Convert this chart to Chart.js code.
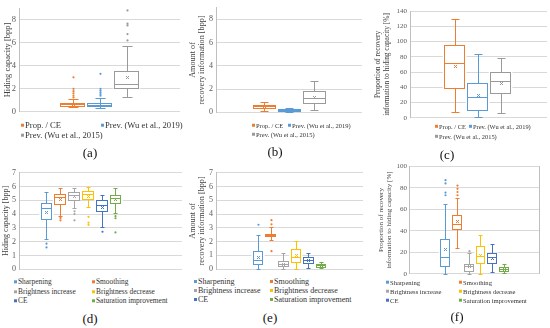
<!DOCTYPE html>
<html>
<head>
<meta charset="utf-8">
<script src="https://cdn.jsdelivr.net/npm/chart.js@4.4.1/dist/chart.umd.min.js"></script>
<style>
  html, body { margin: 0; padding: 0; background: #ffffff; }
  #wrap { position: relative; width: 550px; height: 328px; overflow: hidden; background: #fff; font-family: 'Liberation Serif', 'Times New Roman', serif; }
  canvas { position: absolute; }
  .leg { position: absolute; white-space: nowrap; color: #333; line-height: 1; transform: translateY(-50%); }
  .leg i { display: inline-block; width: 3px; height: 3px; margin-right: 1px; vertical-align: middle; position: relative; top: -1px; }
  .cap { position: absolute; font-size: 13px; color: #111; transform: translate(-50%, -50%); }
</style>
</head>
<body>
<div id="wrap">
  <canvas id="ca" width="185" height="120" style="left:0px;top:0px"></canvas>
  <canvas id="cb" width="180" height="120" style="left:185px;top:0px"></canvas>
  <canvas id="cc" width="185" height="125" style="left:365px;top:0px"></canvas>
  <canvas id="cd" width="185" height="112" style="left:0px;top:165px"></canvas>
  <canvas id="ce" width="180" height="112" style="left:185px;top:165px"></canvas>
  <canvas id="cf" width="185" height="120" style="left:365px;top:160px"></canvas>
</div>
<script>
// ---------------- DATA ----------------
const seriesTop = ['Prop. / CE', 'Prev. (Wu et al., 2019)', 'Prev. (Wu et al., 2015)'];
const seriesBottom = ['Sharpening', 'Smoothing', 'Brightness increase', 'Brightness decrease', 'CE', 'Saturation improvement'];
const captions = ['(a)', '(b)', '(c)', '(d)', '(e)', '(f)'];
const titleA = 'Hiding capacity [bpp]';
const titleB = ['Amount of', 'recovery information [bpp]'];
const titleC = ['Proportion of recovery', 'information to hiding capacity [%]'];

// (a) hiding capacity [bpp]
const a_min  = [0.40, 0.38, 1.30];
const a_q1   = [0.50, 0.50, 2.05];
const a_med  = [0.65, 0.62, 2.40];
const a_q3   = [0.80, 0.78, 3.55];
const a_max  = [1.10, 1.22, 5.70];
const a_mean = [0.72, 0.70, 3.05];
const a_out  = [[1.25, 1.4, 1.6, 1.8, 2.0, 3.0], [1.4, 1.55, 1.7, 1.85, 2.0, 3.3], [6.2, 6.75, 7.5, 7.65, 8.8]];

// (b) amount of recovery information [bpp]
const b_min  = [0.08, 0.05, 0.15];
const b_q1   = [0.35, 0.12, 0.80];
const b_med  = [0.50, 0.20, 1.25];
const b_q3   = [0.62, 0.30, 1.82];
const b_max  = [0.88, 0.38, 2.67];
const b_mean = [0.50, 0.22, 1.32];
const b_out  = [[], [], []];

// (c) proportion [%]
const c_min  = [7, 1, 6];
const c_q1   = [39, 10, 33];
const c_med  = [72, 27, 48];
const c_q3   = [96, 45, 60];
const c_max  = [130, 83, 79];
const c_mean = [68, 30, 46];
const c_out  = [[], [], []];

// (d) hiding capacity [bpp]
const d_min  = [2.20, 3.85, 4.45, 4.55, 3.03, 4.10];
const d_q1   = [3.68, 4.75, 5.05, 5.10, 4.20, 4.82];
const d_med  = [4.42, 5.22, 5.42, 5.45, 4.68, 5.20];
const d_q3   = [4.82, 5.45, 5.62, 5.68, 5.02, 5.42];
const d_max  = [5.62, 5.90, 5.92, 5.98, 5.36, 5.88];
const d_mean = [4.18, 5.08, 5.30, 5.32, 4.50, 5.08];
const d_out  = [[1.85, 1.58], [3.72, 3.55], [4.2, 4.0, 3.55], [3.8, 3.38, 3.22], [2.72], [3.85, 3.7, 2.67]];

// (e) amount of recovery information [bpp]
const e_min  = [0.00, 2.10, 0.00, 0.00, 0.07, 0.05];
const e_q1   = [0.36, 2.37, 0.24, 0.50, 0.43, 0.17];
const e_med  = [0.65, 2.47, 0.38, 0.85, 0.62, 0.26];
const e_q3   = [1.32, 2.58, 0.55, 1.44, 0.85, 0.35];
const e_max  = [2.48, 3.05, 1.15, 2.04, 1.20, 0.50];
const e_mean = [0.84, 2.46, 0.40, 1.00, 0.67, 0.26];
const e_out  = [[3.22], [3.25, 3.55, 1.3], [], [], [], []];

// (f) proportion [%]
const f_min  = [0, 24, 0, 0, 2, 1];
const f_q1   = [7.5, 42, 3, 10, 10, 2.2];
const f_med  = [16, 46, 6.8, 16.5, 16, 4.3];
const f_q3   = [32.5, 54.5, 9.3, 26, 19.5, 6];
const f_max  = [64.5, 70, 19, 36.5, 27.5, 9];
const f_mean = [23.5, 49.5, 7.7, 17.5, 14.5, 4.6];
const f_out  = [[73, 75.5, 84, 87], [73, 76, 79, 82], [21], [], [], []];

const colorsTop = ['#ED7D31', '#5B9BD5', '#9A9A9A'];
const colorsBottom = ['#5B9BD5', '#ED7D31', '#A5A5A5', '#FFC000', '#4472C4', '#70AD47'];

// ---------------- RENDERING ----------------
const FONT = "'Liberation Serif', 'Times New Roman', serif";

const boxPlugin = {
  id: 'boxwhisker',
  afterDatasetsDraw(chart) {
    const ctx = chart.ctx;
    const ys = chart.scales.y;
    const py = v => Math.round(ys.getPixelForValue(v)) + 0.5;
    chart.data.datasets.forEach((ds, i) => {
      const el = chart.getDatasetMeta(i).data[0];
      if (!el) return;
      const s = ds.stats;
      const cx = Math.round(el.x) + 0.5;
      const L = Math.round(el.x - el.width / 2) + 1.5;
      const R = Math.round(el.x + el.width / 2) - 1.5;
      const capHalf = Math.max(2, Math.round(el.width * 0.17));
      const yq1 = py(s.q1), yq3 = py(s.q3);
      ctx.save();
      ctx.strokeStyle = ds.color;
      ctx.fillStyle = ds.color;
      ctx.lineWidth = 1;
      // whiskers
      ctx.beginPath();
      ctx.moveTo(cx, yq3); ctx.lineTo(cx, py(s.max));
      ctx.moveTo(cx - capHalf, py(s.max)); ctx.lineTo(cx + capHalf, py(s.max));
      ctx.moveTo(cx, yq1); ctx.lineTo(cx, py(s.min));
      ctx.moveTo(cx - capHalf, py(s.min)); ctx.lineTo(cx + capHalf, py(s.min));
      ctx.stroke();
      // box
      ctx.fillStyle = '#ffffff';
      ctx.fillRect(L, yq3, R - L, yq1 - yq3);
      ctx.strokeRect(L, yq3, R - L, yq1 - yq3);
      // median
      ctx.beginPath();
      ctx.moveTo(L, py(s.med)); ctx.lineTo(R, py(s.med));
      ctx.stroke();
      // mean
      const ym = py(s.mean);
      ctx.beginPath();
      ctx.moveTo(cx - 1.5, ym - 1.5); ctx.lineTo(cx + 1.5, ym + 1.5);
      ctx.moveTo(cx + 1.5, ym - 1.5); ctx.lineTo(cx - 1.5, ym + 1.5);
      ctx.stroke();
      // outliers
      ctx.fillStyle = ds.color;
      s.out.forEach(v => {
        ctx.beginPath();
        ctx.arc(cx, ys.getPixelForValue(v), 1.1, 0, Math.PI * 2);
        ctx.fill();
      });
      ctx.restore();
    });
    if (chart.options.plugins.boxwhisker && chart.options.plugins.boxwhisker.rightBorder) {
      const a = chart.chartArea;
      ctx.save();
      ctx.strokeStyle = '#bfbfbf';
      ctx.lineWidth = 1;
      ctx.beginPath();
      ctx.moveTo(Math.round(a.right) - 0.5, a.top);
      ctx.lineTo(Math.round(a.right) - 0.5, a.bottom);
      ctx.stroke();
      ctx.restore();
    }
  }
};

function makePanel(cfg) {
  const datasets = cfg.series.map((name, i) => ({
    label: name,
    data: [{ x: cfg.groupX, y: [cfg.q1[i], cfg.q3[i]] }],
    backgroundColor: '#ffffff',
    borderWidth: 0,
    barThickness: cfg.chunk,
    color: cfg.colors[i],
    stats: { min: cfg.min[i], q1: cfg.q1[i], med: cfg.med[i], q3: cfg.q3[i], max: cfg.max[i], mean: cfg.mean[i], out: cfg.out[i] }
  }));
  new Chart(document.getElementById(cfg.id), {
    type: 'bar',
    data: { datasets },
    options: {
      responsive: false,
      animation: false,
      devicePixelRatio: 1,
      layout: { padding: cfg.pad },
      plugins: {
        legend: { display: false },
        tooltip: { enabled: false },
        boxwhisker: { rightBorder: !!cfg.rightBorder }
      },
      scales: {
        x: { type: 'linear', min: 0, max: 1, display: false },
        y: {
          min: 0, max: cfg.yMax,
          ticks: { stepSize: cfg.yStep, color: '#595959', padding: cfg.tickPad, font: { family: FONT, size: cfg.tickSize } },
          grid: { color: '#d9d9d9', drawTicks: false },
          border: { color: '#bfbfbf' },
          title: { display: true, text: cfg.title, color: '#404040', padding: { top: cfg.titlePad, bottom: 0 }, font: { family: FONT, size: cfg.titleSize, lineHeight: cfg.titleLH } },
          afterFit: s => { s.width = cfg.axisW; }
        }
      }
    },
    plugins: [boxPlugin]
  });
  // legend (HTML, real text)
  const wrap = document.getElementById('wrap');
  cfg.series.forEach((name, i) => {
    const d = document.createElement('div');
    d.className = 'leg';
    d.style.left = cfg.legX[i % 2] + 'px';
    d.style.top = cfg.legY[Math.floor(i / 2)] + 'px';
    d.style.fontSize = cfg.legSize + 'px';
    const m = document.createElement('i');
    m.style.background = cfg.colors[i];
    d.appendChild(m);
    d.appendChild(document.createTextNode(name));
    wrap.appendChild(d);
  });
  const c = document.createElement('div');
  c.className = 'cap';
  c.style.left = cfg.capX + 'px';
  c.style.top = cfg.capY + 'px';
  c.textContent = cfg.caption;
  wrap.appendChild(c);
}

makePanel({ id: 'ca', series: seriesTop, colors: colorsTop, min: a_min, q1: a_q1, med: a_med, q3: a_q3, max: a_max, mean: a_mean, out: a_out,
  yMax: 9, yStep: 1, title: titleA, caption: captions[0],
  groupX: 0.5, chunk: 27, pad: { top: 7, right: 5, bottom: 7, left: 0 }, axisW: 19, tickPad: 3, tickSize: 8.5, titleSize: 8.5, titleLH: 1.1, titlePad: 3,
  legX: [21, 101], legY: [125, 135], legSize: 8.6, capX: 90, capY: 153 });

makePanel({ id: 'cb', series: seriesTop, colors: colorsTop, min: b_min, q1: b_q1, med: b_med, q3: b_q3, max: b_max, mean: b_mean, out: b_out,
  yMax: 9, yStep: 1, title: titleB, caption: captions[1],
  groupX: 0.5, chunk: 25, pad: { top: 7, right: 3, bottom: 7, left: 0 }, axisW: 31, tickPad: 3, tickSize: 8, titleSize: 8.2, titleLH: 1.05, titlePad: 3.5,
  legX: [252, 288], legY: [126, 135], legSize: 6.5, capX: 275, capY: 152 });

makePanel({ id: 'cc', series: seriesTop, colors: colorsTop, min: c_min, q1: c_q1, med: c_med, q3: c_q3, max: c_max, mean: c_mean, out: c_out,
  yMax: 140, yStep: 20, title: titleC, caption: captions[2],
  groupX: 0.49, chunk: 23, pad: { top: 11, right: 3, bottom: 7, left: 0 }, axisW: 45, tickPad: 3, tickSize: 7, titleSize: 7.4, titleLH: 1.2, titlePad: 8.5,
  legX: [435, 469], legY: [127, 137], legSize: 6.4, capX: 447, capY: 155 });

makePanel({ id: 'cd', series: seriesBottom, colors: colorsBottom, min: d_min, q1: d_q1, med: d_med, q3: d_q3, max: d_max, mean: d_mean, out: d_out,
  yMax: 7, yStep: 1, title: titleA, caption: captions[3],
  groupX: 0.32, chunk: 13.8, pad: { top: 7, right: 3, bottom: 6, left: 0 }, axisW: 19, tickPad: 3, tickSize: 8, titleSize: 8, titleLH: 1.1, titlePad: 1.5,
  legX: [14, 92], legY: [282, 292, 301], legSize: 7.4, capX: 90, capY: 319 });

makePanel({ id: 'ce', series: seriesBottom, colors: colorsBottom, min: e_min, q1: e_q1, med: e_med, q3: e_q3, max: e_max, mean: e_mean, out: e_out,
  yMax: 7, yStep: 1, title: titleB, caption: captions[4],
  groupX: 0.5, chunk: 12.6, pad: { top: 7, right: 2, bottom: 8, left: 0 }, axisW: 31, tickPad: 3, tickSize: 8, titleSize: 8.2, titleLH: 1.05, titlePad: 3.5,
  legX: [194, 270], legY: [282, 291, 300], legSize: 8, capX: 270, capY: 318 });

makePanel({ id: 'cf', series: seriesBottom, colors: colorsBottom, min: f_min, q1: f_q1, med: f_med, q3: f_q3, max: f_max, mean: f_mean, out: f_out,
  yMax: 100, yStep: 10, title: titleC, caption: captions[5], rightBorder: true,
  groupX: 0.5, chunk: 11.8, pad: { top: 6, right: 10, bottom: 6, left: 0 }, axisW: 44, tickPad: 2, tickSize: 7, titleSize: 7, titleLH: 1.2, titlePad: 12,
  legX: [386, 459], legY: [283, 292, 301], legSize: 6.6, capX: 457, capY: 317 });
</script>
</body>
</html>
